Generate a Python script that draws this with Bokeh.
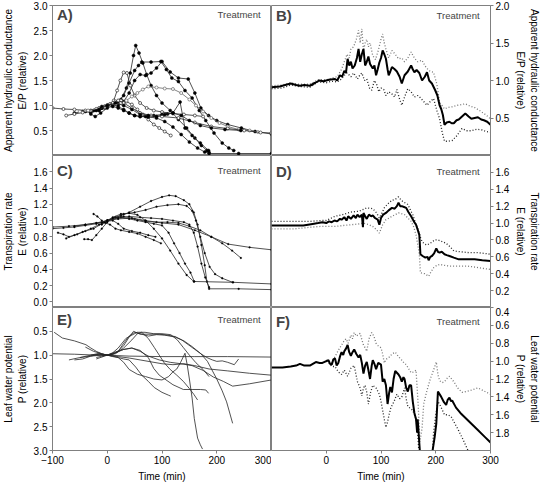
from bokeh.plotting import figure
from bokeh.layouts import row, column
from bokeh.models import Range1d, FixedTicker, Label, NumeralTickFormatter
from bokeh.embed import file_html
from bokeh.resources import INLINE

FONT = "Liberation Sans"
GRAY = "#808080"

# ---------------- Panel A: individual plants, E/P (relative) ----------------
A1 = [(-60,0.85),(-45,0.88),(-30,0.86),(-15,0.9),(-5,0.95),(5,1.0),(15,1.05),(25,1.12),(35,1.35),(42,1.65),(48,2.0),(52,2.2),(58,2.05),(65,1.85),(72,1.62),(80,1.4),(90,1.2),(100,1.05),(115,0.9),(130,0.72),(145,0.55),(160,0.35),(172,0.2),(182,0.1),(186,0.06)]
A2 = [(-40,0.88),(-25,0.9),(-10,0.95),(0,1.0),(10,1.03),(20,1.08),(30,1.2),(40,1.45),(50,1.7),(57,1.8),(63,1.87),(80,1.87),(98,1.88),(108,1.72),(118,1.55),(130,1.48),(142,1.3),(155,1.15),(168,0.9),(180,0.7),(195,0.45),(210,0.25),(222,0.15),(231,0.1)]
A3 = [(-30,0.83),(-22,0.78),(-12,0.85),(0,0.95),(10,1.0),(20,1.02),(30,1.08),(40,1.25),(50,1.5),(60,1.62),(70,1.6),(80,1.65),(90,1.75),(100,1.88),(115,1.67),(130,1.55),(148,1.53),(160,1.25),(171,0.95),(185,0.8),(200,0.7),(220,0.62),(245,0.55),(270,0.48),(300,0.43)]
A4 = [(-75,0.8),(-60,0.83),(-45,0.86),(-30,0.9),(-15,0.95),(-5,0.98),(5,1.02),(12,1.1),(18,1.3),(24,1.5),(30,1.66),(36,1.65),(42,1.4),(50,1.2),(60,1.05),(72,0.95),(85,0.9),(100,0.87),(120,0.84),(140,0.82),(160,0.8),(175,0.78)]
A5 = [(-100,0.95),(-80,0.93),(-60,0.92),(-40,0.9),(-20,0.93),(-5,0.98),(5,1.03),(15,1.08),(25,1.1),(35,1.08),(45,1.02),(55,0.92),(65,0.82),(75,0.72),(85,0.62),(95,0.55),(105,0.48),(116,0.4)]
A6 = [(-50,0.88),(-35,0.9),(-20,0.93),(-5,0.97),(5,1.0),(15,1.02),(25,1.05),(35,1.1),(45,1.18),(55,1.25),(65,1.32),(75,1.38),(90,1.36),(105,1.34),(120,1.33),(135,1.25),(150,1.12),(162,1.0),(175,0.88),(190,0.75),(205,0.65),(220,0.58),(240,0.52),(260,0.5),(275,0.47)]
A7 = [(-20,0.9),(-10,0.95),(0,1.0),(10,0.98),(20,0.95),(30,0.9),(40,0.85),(50,0.8),(60,0.78),(75,0.77),(90,0.75),(105,0.68),(120,0.57),(135,0.42),(150,0.27),(165,0.15),(178,0.07),(186,0.04),(240,0.04),(300,0.04)]
A8 = [(-10,0.98),(0,1.0),(10,1.02),(20,0.98),(30,0.92),(40,0.85),(50,0.8),(60,0.78),(70,0.78),(85,0.8),(100,0.82),(110,0.83),(120,0.85),(133,1.07),(142,0.55),(155,0.4),(170,0.25),(185,0.1)]
A9 = [(0,1.0),(10,1.05),(20,1.1),(30,1.05),(45,0.95),(60,0.85),(80,0.8),(100,0.78),(130,0.75),(160,0.66),(190,0.58),(220,0.54),(250,0.5),(280,0.46),(300,0.45)]
A10 = [(-15,0.92),(0,1.0),(15,1.05),(30,1.0),(45,0.92),(60,0.82),(75,0.8),(90,0.78),(105,0.82),(120,0.85),(135,0.8),(150,0.7),(170,0.6),(190,0.55),(215,0.52),(244,0.5)]

# ---------------- Panel B: mean and bounds, E/P ----------------
B_mean = [(-100,0.91),(-85,0.92),(-65,0.96),(-55,0.94),(-48,0.93),(-40,0.94),(-30,0.93),(-20,0.97),(-13,1.0),(-5,0.99),(5,1.01),(16,1.02),(20,1.0),(25,1.07),(29,1.05),(33,1.13),(36,1.1),(39,1.29),(42,1.2),(45,1.25),(48,1.16),(52,1.2),(56,1.3),(59,1.42),(62,1.25),(65,1.35),(68,1.42),(71,1.2),(74,1.25),(77,1.32),(80,1.22),(85,1.16),(88,1.2),(91,1.07),(94,1.15),(97,1.24),(100,1.3),(103,1.4),(106,1.35),(109,1.29),(112,1.15),(114,1.07),(117,1.12),(120,1.18),(125,1.15),(129,1.12),(134,1.05),(138,0.96),(143,1.07),(149,1.12),(155,1.2),(158,1.15),(161,1.11),(165,1.14),(170,1.1),(175,1.0),(180,1.05),(184,1.11),(188,1.0),(193,0.96),(199,0.87),(203,0.8),(207,0.67),(210,0.62),(213,0.54),(216,0.41),(220,0.44),(225,0.45),(229,0.43),(233,0.43),(238,0.47),(242,0.48),(248,0.52),(254,0.56),(260,0.52),(265,0.49),(271,0.5),(277,0.51),(283,0.48),(288,0.47),(294,0.45),(300,0.41)]
B_up = [(-100,0.93),(-80,0.94),(-65,0.97),(-50,0.95),(-30,0.95),(-15,1.01),(0,1.01),(10,1.03),(20,1.05),(28,1.15),(33,1.25),(38,1.35),(42,1.3),(45,1.42),(50,1.45),(55,1.55),(59,1.67),(62,1.5),(65,1.69),(68,1.4),(71,1.5),(74,1.55),(77,1.45),(80,1.5),(85,1.33),(90,1.28),(95,1.4),(100,1.55),(103,1.62),(106,1.5),(109,1.42),(114,1.3),(120,1.4),(126,1.35),(132,1.29),(138,1.3),(143,1.25),(149,1.3),(155,1.38),(161,1.3),(167,1.25),(175,1.27),(180,1.2),(184,1.16),(190,1.12),(196,1.11),(202,0.95),(207,0.71),(212,0.66),(216,0.62),(222,0.64),(230,0.65),(240,0.67),(248,0.68),(254,0.69),(262,0.66),(271,0.64),(280,0.6),(290,0.55),(300,0.49)]
B_lo = [(-100,0.89),(-80,0.9),(-65,0.94),(-50,0.92),(-30,0.91),(-15,0.98),(0,0.97),(10,0.99),(20,0.98),(28,1.02),(33,1.07),(38,1.1),(45,1.05),(50,1.1),(57,1.02),(62,1.08),(65,1.1),(70,1.0),(74,1.02),(79,0.9),(83,0.87),(88,1.0),(92,0.95),(96,0.85),(100,0.9),(105,0.88),(109,0.8),(114,0.85),(120,0.82),(125,0.78),(129,0.88),(134,0.75),(138,0.67),(143,0.78),(149,0.89),(155,0.85),(161,0.78),(167,0.8),(172,0.77),(178,0.72),(184,0.67),(190,0.72),(196,0.76),(202,0.6),(207,0.49),(212,0.3),(216,0.19),(222,0.19),(230,0.2),(238,0.26),(248,0.36),(256,0.33),(265,0.33),(275,0.35),(285,0.34),(292,0.32),(300,0.31)]

# ---------------- Panel C: individual plants, E (relative) ----------------
C1 = [(-100,0.9),(-80,0.91),(-60,0.92),(-40,0.94),(-20,0.96),(-8,0.98),(0,1.0),(10,1.02),(25,1.06),(40,1.1),(60,1.17),(80,1.24),(100,1.29),(113,1.31),(125,1.3),(140,1.25),(150,1.2),(158,1.1),(165,0.95),(172,0.7),(178,0.45),(182,0.25),(186,0.16),(240,0.16),(300,0.15)]
C2 = [(-90,0.85),(-80,0.83),(-70,0.8),(-55,0.83),(-40,0.87),(-25,0.9),(-10,0.96),(0,1.0),(15,1.04),(30,1.08),(50,1.1),(70,1.13),(90,1.17),(110,1.19),(130,1.2),(145,1.18),(155,1.12),(162,1.0),(170,0.8),(178,0.6),(187,0.43),(197,0.34),(210,0.29),(229,0.24)]
C3 = [(-75,0.78),(-60,0.82),(-45,0.86),(-30,0.9),(-15,0.95),(0,1.0),(15,1.04),(30,1.05),(50,1.02),(70,0.99),(90,0.98),(110,0.98),(130,0.97),(150,0.93),(170,0.88),(190,0.8),(210,0.72),(228,0.63),(244,0.54)]
C4 = [(-100,0.92),(-70,0.93),(-40,0.95),(-10,0.98),(0,1.0),(20,1.02),(45,1.03),(70,1.0),(100,0.97),(130,0.95),(160,0.88),(190,0.8),(221,0.71),(260,0.67),(300,0.64)]
C5 = [(-42,0.77),(-35,0.77),(-28,0.76),(-20,0.82),(-10,0.9),(0,0.98),(10,1.03),(25,1.04),(40,1.02),(55,1.0),(70,0.98),(85,0.96),(100,0.94),(112,0.85),(122,0.72),(132,0.6),(142,0.47),(152,0.36),(159,0.25),(230,0.24),(300,0.22)]
C6 = [(-25,1.08),(-18,1.05),(-10,1.0),(-3,0.97),(5,0.95),(15,0.9),(25,0.88),(40,0.86),(55,0.84),(70,0.8),(85,0.76),(98,0.72)]
C7 = [(-10,0.95),(0,0.99),(10,1.0),(20,0.96),(30,0.9),(45,0.87),(60,0.85),(75,0.82),(88,0.8)]
C8 = [(-5,0.98),(0,1.0),(10,1.04),(25,1.08),(40,1.09),(55,1.07),(70,1.0),(85,0.9),(100,0.78),(115,0.63),(130,0.47),(145,0.33),(158,0.25)]
C9 = [(-60,0.93),(-40,0.95),(-20,0.97),(0,1.0),(20,1.03),(40,1.05),(60,1.04),(80,1.03),(100,1.02),(120,1.0),(140,0.98),(150,0.95),(158,0.85),(165,0.68),(172,0.47),(179,0.3),(186,0.18)]

# ---------------- Panel D: mean and bounds, E ----------------
D_mean = [(-100,0.97),(-70,0.97),(-42,0.97),(-25,0.99),(-15,1.0),(-7,1.01),(0,1.0),(5,1.02),(10,1.01),(15,1.03),(20,1.02),(25,1.05),(28,1.04),(33,1.07),(37,1.03),(40,1.08),(45,1.05),(50,1.09),(54,1.06),(57,1.1),(61,1.07),(65,1.1),(67,0.95),(68,1.12),(71,1.08),(74,1.05),(78,1.1),(82,1.08),(85,1.09),(89,1.06),(94,1.04),(97,0.98),(100,1.06),(104,1.1),(109,1.12),(114,1.15),(120,1.18),(125,1.17),(129,1.2),(132,1.24),(135,1.2),(138,1.2),(142,1.19),(146,1.18),(150,1.13),(155,1.08),(160,1.02),(164,0.98),(167,0.92),(170,0.86),(172,0.63),(176,0.61),(181,0.59),(185,0.6),(187,0.56),(190,0.6),(193,0.61),(197,0.64),(201,0.7),(204,0.66),(207,0.65),(211,0.66),(216,0.63),(220,0.62),(225,0.61),(233,0.59),(242,0.57),(255,0.57),(271,0.57),(285,0.56),(300,0.55)]
D_up = [(-100,1.02),(-60,1.02),(-30,1.02),(-10,1.03),(0,1.03),(16,1.08),(30,1.1),(45,1.13),(60,1.14),(74,1.18),(85,1.17),(92,1.12),(97,1.06),(102,1.12),(106,1.18),(113,1.23),(120,1.27),(126,1.28),(132,1.31),(137,1.27),(141,1.25),(149,1.22),(154,1.15),(158,1.1),(163,1.0),(167,0.94),(171,0.85),(175,0.78),(180,0.75),(184,0.74),(192,0.77),(198,0.8),(204,0.8),(212,0.78),(219,0.76),(226,0.72),(233,0.67),(245,0.66),(260,0.65),(275,0.65),(290,0.64),(300,0.63)]
D_lo = [(-100,0.93),(-60,0.93),(-30,0.95),(-10,0.96),(0,0.96),(16,0.96),(30,0.97),(45,0.98),(60,0.99),(68,1.0),(78,0.98),(85,0.96),(92,0.92),(97,0.88),(103,0.98),(109,1.04),(115,1.06),(120,1.08),(126,1.1),(132,1.12),(138,1.11),(143,1.1),(149,1.06),(155,1.02),(160,0.95),(164,0.86),(167,0.75),(170,0.63),(172,0.41),(180,0.4),(187,0.37),(192,0.43),(196,0.47),(202,0.5),(207,0.51),(215,0.5),(225,0.49),(240,0.49),(259,0.49),(280,0.47),(300,0.45)]

# ---------------- Panel E: individual plants, P (relative) ----------------
E1 = [(-100,0.97),(-60,0.98),(-20,1.0),(0,1.0),(40,1.02),(100,1.03),(160,1.03),(220,1.03),(300,1.04)]
E2 = [(-97,0.52),(-82,0.64),(-60,0.7),(-39,0.78),(-30,0.85),(-20,0.92),(-10,0.97),(0,1.0),(10,0.98),(20,0.92),(30,0.8),(40,0.62),(48,0.5),(60,0.56),(80,0.56),(95,0.56),(110,0.58),(124,0.61),(136,0.68),(148,0.78),(160,0.88),(171,0.97),(182,1.05),(192,1.1),(200,1.13),(210,1.12),(220,1.15),(232,1.2),(240,1.08)]
E3 = [(-60,1.1),(-45,1.08),(-30,1.02),(-15,0.98),(0,1.0),(10,0.98),(20,0.92),(30,0.75),(40,0.6),(50,0.52),(60,0.55),(75,0.6),(90,0.57),(105,0.58),(124,0.62),(140,0.7),(155,0.82),(171,0.97),(183,1.13),(200,1.5),(210,1.75),(218,1.98),(229,2.43)]
E4 = [(-40,0.83),(-25,0.92),(-10,0.97),(0,1.0),(15,0.97),(30,0.85),(45,0.68),(55,0.55),(63,0.52),(75,0.65),(86,0.84),(95,1.0),(104,1.16),(115,1.3),(127,1.42),(139,1.55),(150,1.7),(158,1.82),(165,1.94)]
E5 = [(-20,1.05),(-10,1.02),(0,1.0),(10,1.02),(20,1.05),(30,1.15),(40,1.3),(55,1.4),(70,1.45),(85,1.5),(100,1.52),(112,1.45),(120,1.35),(127,1.29),(134,1.15),(142,0.96),(146,1.2),(150,1.5),(155,1.9),(159,2.33),(165,2.74),(170,2.88),(174,2.97)]
E6 = [(-10,1.02),(0,1.0),(10,1.03),(20,1.05),(30,1.08),(40,1.1),(52,1.25),(63,1.42),(75,1.55),(86,1.68),(100,1.78),(112,1.84),(116,1.86)]
E7 = [(-50,1.05),(-30,1.0),(-15,0.96),(0,1.0),(15,0.95),(30,0.88),(45,0.85),(60,0.9),(75,1.05),(85,1.28),(95,1.42),(105,1.5),(120,1.62),(139,1.72),(155,1.72),(170,1.72),(180,1.73),(185,1.8)]
E8 = [(-70,1.1),(-50,1.05),(-30,1.02),(-10,1.0),(0,1.0),(20,1.03),(40,1.06),(60,1.1),(80,1.14),(100,1.18),(120,1.2),(140,1.18),(160,1.22),(186,1.29),(220,1.33),(260,1.38),(300,1.42)]
E9 = [(-30,1.0),(-15,0.98),(0,1.0),(15,0.93),(30,0.88),(45,0.85),(60,0.92),(75,1.02),(95,1.1),(115,1.15),(135,1.18),(155,1.22),(175,1.32),(194,1.46),(212,1.55),(229,1.65),(260,1.6),(300,1.52)]
E10 = [(-20,1.08),(-5,1.02),(0,1.0),(10,0.95),(20,0.85),(34,0.65),(45,0.58),(55,0.52),(69,0.52),(85,0.55),(100,0.55),(116,0.57),(128,0.68),(139,0.84),(150,1.0),(162,1.16),(175,1.3),(186,1.45)]

# ---------------- Panel F: mean and bounds, P ----------------
F_mean = [(-100,1.07),(-80,1.07),(-65,1.06),(-55,1.05),(-48,1.03),(-40,1.05),(-30,1.05),(-19,1.01),(-12,1.02),(-7,1.02),(0,1.0),(4,0.99),(7,1.03),(10,1.04),(13,0.98),(16,0.97),(19,1.05),(22,1.02),(25,0.95),(28,0.9),(31,0.93),(33,0.89),(36,0.86),(39,0.82),(42,0.9),(45,0.94),(48,0.9),(51,0.87),(55,0.92),(59,0.96),(62,0.93),(65,1.02),(68,1.14),(71,1.05),(74,1.01),(77,1.1),(80,1.2),(83,1.05),(85,0.99),(88,1.03),(91,1.09),(95,1.02),(100,1.04),(103,1.23),(106,1.2),(109,1.27),(112,1.48),(115,1.35),(117,1.29),(120,1.35),(123,1.2),(126,1.11),(129,1.13),(132,1.15),(135,1.18),(138,1.23),(141,1.18),(143,1.2),(146,1.3),(149,1.34),(152,1.27),(155,1.27),(158,1.45),(161,1.58),(164,1.65),(166,1.8),(167,1.65),(172,2.1),(180,2.4),(188,2.4),(193,2.05),(198,1.85),(201,1.7),(204,1.34),(210,1.4),(215,1.46),(219,1.49),(222,1.43),(225,1.41),(228,1.45),(230,1.44),(237,1.52),(245,1.58),(260,1.67),(275,1.76),(290,1.85),(300,1.91)]
F_up = [(0,0.99),(5,1.0),(10,1.02),(16,0.95),(22,0.88),(28,0.82),(32,0.78),(36,0.75),(40,0.8),(45,0.71),(48,0.75),(51,0.68),(55,0.72),(59,0.7),(62,0.69),(65,0.76),(68,0.82),(71,0.85),(74,0.89),(78,0.75),(83,0.68),(87,0.72),(91,0.8),(95,0.83),(100,0.85),(103,0.92),(106,1.02),(109,0.98),(112,0.97),(116,0.95),(120,0.92),(126,0.9),(132,0.95),(138,0.99),(142,1.02),(146,1.04),(150,1.08),(155,1.13),(160,1.12),(164,1.1),(168,1.5),(171,1.9),(175,1.75),(178,1.48),(183,1.35),(190,1.2),(196,1.1),(201,1.01),(204,1.15),(207,1.22),(212,1.24),(216,1.23),(221,1.19),(225,1.17),(229,1.2),(233,1.23),(240,1.3),(248,1.35),(262,1.33),(277,1.3),(290,1.34),(300,1.37)]
F_lo = [(0,1.0),(5,1.02),(10,1.06),(16,1.06),(22,1.12),(28,1.15),(33,1.1),(39,1.17),(45,1.08),(51,1.05),(57,1.23),(62,1.3),(65,1.39),(68,1.3),(71,1.27),(74,1.35),(77,1.48),(81,1.35),(85,1.27),(91,1.3),(97,1.37),(100,1.45),(103,1.55),(106,1.65),(109,1.74),(112,1.68),(114,1.62),(118,1.52),(124,1.45),(129,1.37),(134,1.42),(138,1.4),(143,1.3),(146,1.42),(149,1.51),(154,1.53),(158,1.55),(164,1.65),(167,1.8),(170,2.1),(180,2.3),(192,2.2),(196,1.8),(200,1.6),(204,1.45),(210,1.52),(216,1.6),(222,1.6),(228,1.62),(235,1.7),(242,1.78),(250,1.88),(259,2.0),(270,2.12)]

X_TICKS = [-100, 0, 100, 200, 300]
YLAB_EP = "Apparent hydraulic conductance\nE/P (relative)"
YLAB_E = "Transpiration rate\nE (relative)"
YLAB_P = "Leaf water potential\nP (relative)"

LB, RB, FW = 46, 46, 225


def xs(s):
    return [a for a, b in s]


def ys(s):
    return [b for a, b in s]


def panel(side, yr, yticks, ylabel, fh, letter, ly, top=0, bottom=0, xaxis=False, xticks=None):
    w = LB + FW if side == "left" else FW + RB
    p = figure(width=w, height=top + fh + bottom, x_range=Range1d(-100, 300),
               y_range=Range1d(*yr), output_backend="svg", toolbar_location=None, tools="",
               x_axis_location="below" if xaxis else None, y_axis_location=side,
               min_border_left=LB if side == "left" else 0,
               min_border_right=RB if side == "right" else 0,
               min_border_top=top, min_border_bottom=bottom,
               background_fill_alpha=0, border_fill_alpha=0)
    p.xgrid.visible = False
    p.ygrid.visible = False
    p.outline_line_color = GRAY
    p.outline_line_width = 1
    axes = list(p.yaxis) + (list(p.xaxis) if xaxis else [])
    for ax in axes:
        ax.axis_line_color = GRAY
        ax.major_tick_line_color = GRAY
        ax.minor_tick_line_color = None
        ax.major_tick_out = 3
        ax.major_tick_in = 0
        ax.major_label_text_font = FONT
        ax.major_label_text_font_size = "10px"
        ax.major_label_text_color = "black"
        ax.major_label_standoff = 2
        ax.axis_label_text_font = FONT
        ax.axis_label_text_font_size = "10px"
        ax.axis_label_text_font_style = "normal"
        ax.axis_label_text_color = "black"
        ax.axis_label_standoff = 3
    ya = p.yaxis[0]
    ya.ticker = FixedTicker(ticks=yticks)
    ya.formatter = NumeralTickFormatter(format="0.0")
    ya.axis_label = ylabel
    if xaxis:
        xa = p.xaxis[0]
        xa.ticker = FixedTicker(ticks=xticks)
        xa.axis_label = "Time (min)"
        xa.axis_label_standoff = 4
    p.add_layout(Label(x=-92, y=ly, text=letter, text_font=FONT, text_font_style="bold",
                       text_font_size="15px", text_baseline="middle", text_align="left"))
    p.add_layout(Label(x=280, y=ly, text="Treatment", text_font=FONT,
                       text_font_size="9.5px", text_baseline="middle", text_align="right"))
    return p


def individual(p, series, markers):
    for s, m in zip(series, markers):
        col = "#666666" if m == "open_gray" else "#262626"
        p.line(xs(s), ys(s), line_color=col, line_width=0.8)
        if m == "filled":
            p.scatter(xs(s), ys(s), marker="circle", size=3, fill_color="black", line_color="black", line_width=0.5)
        elif m in ("open", "open_gray"):
            p.scatter(xs(s), ys(s), marker="circle", size=3, fill_color="white", line_color=col, line_width=0.7)
        elif m == "dot":
            p.scatter(xs(s), ys(s), marker="circle", size=1.8, fill_color="black", line_color="black", line_width=0.3)


def summary(p, mean, up, lo, up_col, lo_col):
    p.line(xs(up), ys(up), line_color=up_col, line_width=1.3, line_dash="1 2")
    p.line(xs(lo), ys(lo), line_color=lo_col, line_width=1.3, line_dash="1 2")
    p.line(xs(mean), ys(mean), line_color="black", line_width=2)


TOP, H1, H2, H3, BOT = 5, 150, 152, 152, 25

pA = panel("left", (0, 3.0), [0.5, 1.0, 1.5, 2.0, 2.5, 3.0], YLAB_EP, H1, "A)", 2.82, top=TOP)
individual(pA, [A1, A2, A3, A4, A5, A6, A7, A8, A9, A10],
           ["filled", "filled", "filled", "open", "open", "open_gray", "filled", "filled", "open", "filled"])
pB = panel("right", (0, 2.0), [0.5, 1.0, 1.5, 2.0], YLAB_EP, H1, "B)", 1.87, top=TOP)
summary(pB, B_mean, B_up, B_lo, "#777777", "#222222")

pC = panel("left", (-0.07, 1.8), [0.0, 0.2, 0.4, 0.6, 0.8, 1.0, 1.2, 1.4, 1.6], YLAB_E, H2, "C)", 1.61)
individual(pC, [C1, C2, C3, C4, C5, C6, C7, C8, C9], ["dot"] * 9)
pD = panel("right", (0, 1.8), [0.2, 0.4, 0.6, 0.8, 1.0, 1.2, 1.4, 1.6], YLAB_E, H2, "D)", 1.61)
summary(pD, D_mean, D_up, D_lo, "#222222", "#777777")

pE = panel("left", (3.0, 0.0), [0.5, 1.0, 1.5, 2.0, 2.5, 3.0], YLAB_P, H3, "E)", 0.25,
           bottom=BOT, xaxis=True, xticks=X_TICKS)
individual(pE, [E1, E2, E3, E4, E5, E6, E7, E8, E9, E10], ["none"] * 10)
pF = panel("right", (2.0, 0.4), [0.4, 0.6, 0.8, 1.0, 1.2, 1.4, 1.6, 1.8], YLAB_P, H3, "F)", 0.56,
           bottom=BOT, xaxis=True, xticks=[0, 100, 200, 300])
summary(pF, F_mean, F_up, F_lo, "#777777", "#222222")

layout = column(row(pA, pB), row(pC, pD), row(pE, pF))
open("out.html", "w").write(file_html(layout, INLINE))
